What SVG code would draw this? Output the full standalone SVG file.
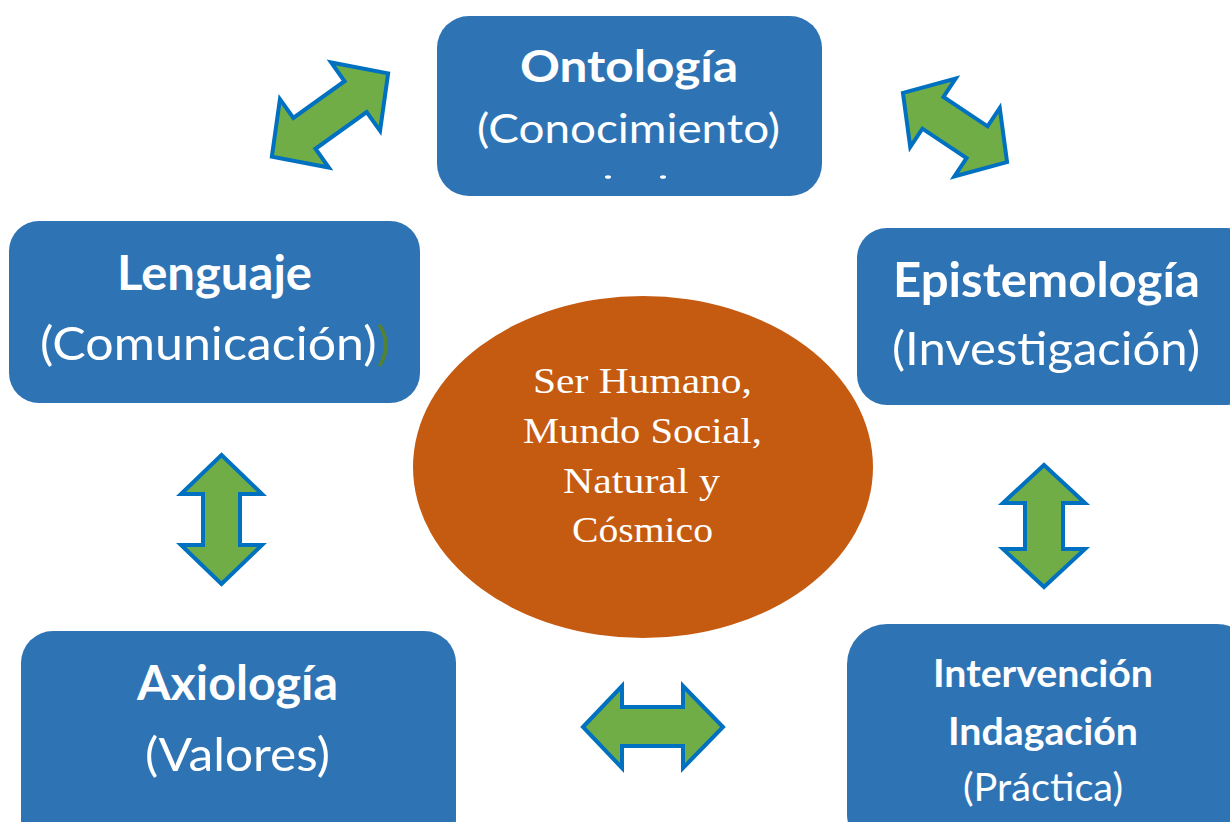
<svg xmlns="http://www.w3.org/2000/svg" width="1230" height="822" viewBox="0 0 1230 822">
<style>
.box{fill:#2E74B5}
.t{fill:#FFFFFF;font-family:Lato,"Open Sans","Liberation Sans",sans-serif;text-anchor:middle}
.b{font-weight:bold}
.s{fill:#FFFFFF;font-family:"Liberation Serif","DejaVu Serif",serif;font-size:36px;text-anchor:middle}
.arr{fill:#70AD47;stroke:#0070C0;stroke-width:4;stroke-linejoin:miter}
</style>
<rect width="1230" height="822" fill="#FFFFFF"/>
<g id="connectors">
<polygon class="arr" transform="translate(330,115) rotate(-35.6)" points="71.5,0 31.5,-42 31.5,-19 -31.5,-19 -31.5,-42 -71.5,0 -31.5,42 -31.5,19 31.5,19 31.5,42"/>
<polygon class="arr" transform="translate(955,127.5) rotate(33.6)" points="62.5,0 26.5,-41 26.5,-19 -26.5,-19 -26.5,-41 -62.5,0 -26.5,41 -26.5,19 26.5,19 26.5,41"/>
<polygon class="arr" points="221.5,455 262,494 240,494 240,545 262,545 221.5,584 181,545 203,545 203,494 181,494"/>
<polygon class="arr" points="1044,465 1085,503 1063,503 1063,549 1085,549 1044,587 1003,549 1025,549 1025,503 1003,503"/>
<polygon class="arr" points="583,727 622,686 622,707 683,707 683,686 723,727 683,768 683,746 622,746 622,768"/>
</g>
<g id="ontologia">
<rect class="box" x="437" y="16" width="385" height="180" rx="32"/>
<text class="t b" x="629" y="82" font-size="44" textLength="218" lengthAdjust="spacingAndGlyphs">Ontología</text>
<text class="t" x="628.5" y="143" font-size="40" textLength="303" lengthAdjust="spacingAndGlyphs">(Conocimiento)</text>
<ellipse cx="608" cy="177" rx="3" ry="1.8" fill="#FFFFFF"/>
<ellipse cx="663" cy="177" rx="3" ry="1.8" fill="#FFFFFF"/>
</g>
<g id="lenguaje">
<rect class="box" x="9" y="221" width="411" height="182" rx="30"/>
<text class="t b" x="214.5" y="290" font-size="47" textLength="195" lengthAdjust="spacingAndGlyphs">Lenguaje</text>
<text class="t" x="215" y="360" font-size="47" textLength="350" lengthAdjust="spacingAndGlyphs">(Comunicación)<tspan fill="#548235">)</tspan></text>
</g>
<g id="epistemologia">
<rect class="box" x="857" y="228" width="400" height="177" rx="30"/>
<text class="t b" x="1046.5" y="297" font-size="47" textLength="307" lengthAdjust="spacingAndGlyphs">Epistemología</text>
<text class="t" x="1046" y="365" font-size="47" textLength="308" lengthAdjust="spacingAndGlyphs">(Investigación)</text>
</g>
<g id="axiologia">
<rect class="box" x="21" y="631" width="435" height="220" rx="32"/>
<text class="t b" x="237.5" y="700" font-size="47" textLength="201" lengthAdjust="spacingAndGlyphs">Axiología</text>
<text class="t" x="237.5" y="771" font-size="47" textLength="185" lengthAdjust="spacingAndGlyphs">(Valores)</text>
</g>
<g id="intervencion">
<rect class="box" x="847" y="624" width="410" height="230" rx="40"/>
<text class="t b" x="1043" y="687" font-size="38" textLength="220" lengthAdjust="spacingAndGlyphs">Intervención</text>
<text class="t b" x="1043" y="745" font-size="38" textLength="190" lengthAdjust="spacingAndGlyphs">Indagación</text>
<text class="t" x="1043" y="801" font-size="38" textLength="160" lengthAdjust="spacingAndGlyphs">(Práctica)</text>
</g>
<g id="centro">
<ellipse cx="643" cy="467" rx="230" ry="171" fill="#C55A11"/>
<text class="s" x="642.5" y="393" textLength="219" lengthAdjust="spacingAndGlyphs">Ser Humano,</text>
<text class="s" x="642.5" y="443" textLength="239" lengthAdjust="spacingAndGlyphs">Mundo Social,</text>
<text class="s" x="641.5" y="493" textLength="157" lengthAdjust="spacingAndGlyphs">Natural y</text>
<text class="s" x="642.5" y="542" textLength="141" lengthAdjust="spacingAndGlyphs">Cósmico</text>
</g>
</svg>
